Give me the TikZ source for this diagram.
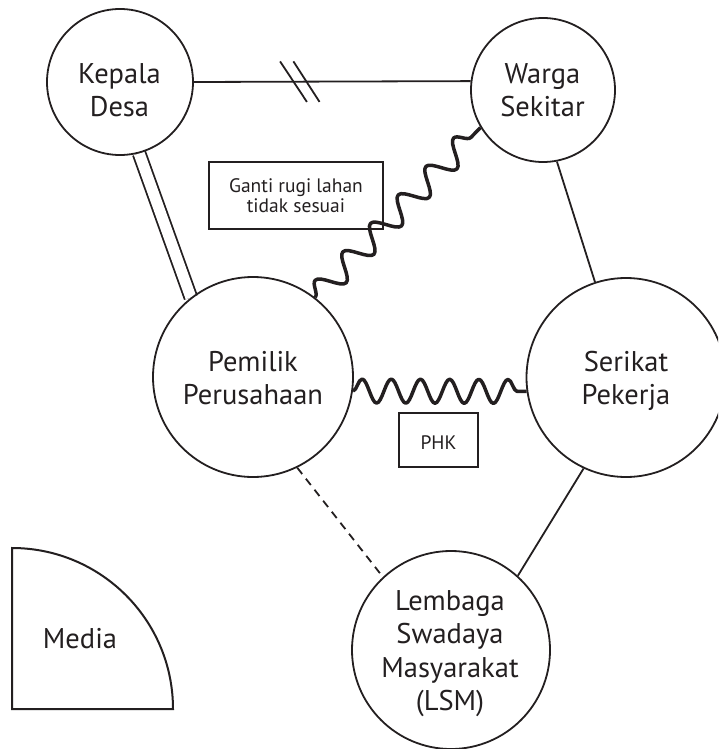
\documentclass[tikz,border=0pt]{standalone}
\usepackage{fontspec}
\setmainfont{PT Sans}
\usetikzlibrary{decorations.pathmorphing,decorations.markings}
\definecolor{ink}{RGB}{35,31,32}
\pgfdeclarelayer{bg}
\pgfsetlayers{bg,main}
\begin{document}
\begin{tikzpicture}[x=1pt,y=-1pt,
  circ/.style={circle,draw=ink,line width=1.8pt,inner sep=0pt},
  lbl/.style={font=\fontsize{28.5}{33.5}\selectfont,align=center,text=ink,inner sep=0pt},
  note/.style={draw=ink,line width=2pt,font=\fontsize{19.5}{20}\selectfont,align=center,text=ink,inner sep=0pt},
  conn/.style={draw=ink,line width=1.8pt},
  wavy/.style={draw=ink,line width=3.5pt,line join=round,decorate,decoration={snake,amplitude=12pt,segment length=#1}},
  dbl/.style={draw=ink,double=white,double distance=11pt,line width=1.8pt},
  brk/.style={postaction={decorate,decoration={markings,mark=at position #1 with {\draw[ink,line width=1.8pt] (-20pt,20.3pt) -- (6.7pt,-20.3pt) (-6.7pt,20.3pt) -- (19.3pt,-20.3pt);}}}}
]
\useasboundingbox (0,0) rectangle (718,749);
\clip (0,0) rectangle (718,749);

% circles
\node[circ,minimum size=146pt] (kd) at (120,82) {};
\node[circ,minimum size=144pt] (wg) at (543,90) {};
\node[circ,minimum size=200pt] (pem) at (253,377) {};
\node[circ,minimum size=199pt] (ser) at (626,377.5) {};
\node[circ,minimum size=198pt] (lsm) at (451,650) {};

% labels
\node[lbl] (kdt) at (119.5,93.3) {Kepala\strut\\Desa\strut};
\node[lbl] (wgt) at (542.5,93.3) {Warga\strut\\Sekitar\strut};
\node[lbl] (pemt) at (253,381.5) {Pemilik\strut\\Perusahaan\strut};
\node[lbl] (sert) at (626,381.5) {Serikat\strut\\Pekerja\strut};
\node[lbl] (lsmt) at (450,654) {Lembaga\strut\\Swadaya\strut\\Masyarakat\strut\\(LSM)\strut};

% media quarter
\draw[ink,line width=2pt,line join=miter] (12,548) -- (12,709) -- (173,709) arc[start angle=0,end angle=90,radius=161pt] -- cycle;
\node[lbl] (medt) at (80,641.6) {Media\strut};

% notes
\node[note,minimum width=174pt,minimum height=67pt] (ganti) at (296,195.3) {Ganti rugi lahan\\tidak sesuai};
\node[note,minimum width=79pt,minimum height=54pt,text height=19.2pt,text depth=0pt] (phk) at (438.5,439.7) {PHK};

% connectors
\begin{pgfonlayer}{bg}
\draw[conn,brk=0.384] (kd.east) -- (wg.173.6);
\draw[dbl] (kd.-75) -- (pem.128.6);
\draw[conn] (wg.-79.1) -- (ser.108);
\draw[conn] (ser.-115.9) -- (lsm.48.6);
\draw[conn,dash pattern=on 8pt off 6pt] (pem.-64.7) -- (lsm.133);
\draw[wavy=29.2pt] (pem.-8.6) -- (ser.188.6);
\draw[wavy=39.7pt] (pem.52.9) -- (wg.211.6);
\end{pgfonlayer}
\end{tikzpicture}
\end{document}
